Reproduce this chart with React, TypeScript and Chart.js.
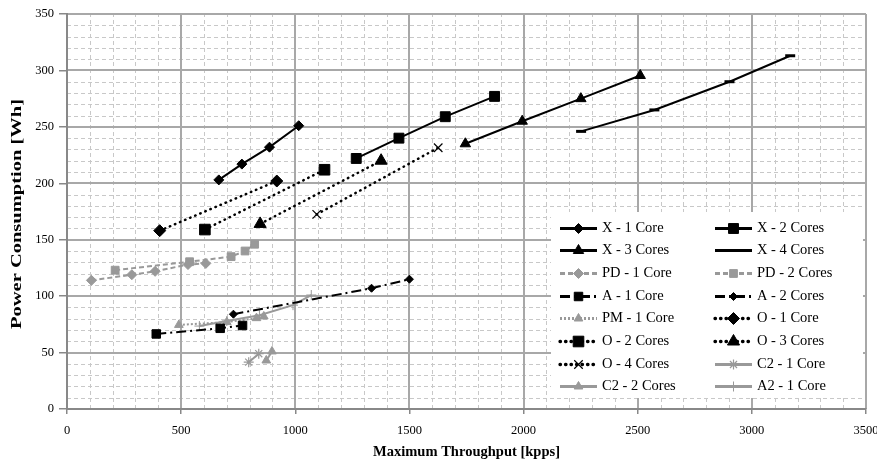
import React, { useEffect, useRef } from "react";
import { Chart, registerables } from "chart.js";
import { drawPoint } from "chart.js/helpers";

Chart.register(...registerables);

// ---- axis setup ----
const X_MIN = 0;
const X_MAX = 3500;
const X_MAJOR = 500;
const X_MINOR = 100;
const Y_MIN = 0;
const Y_MAX = 350;
const Y_MAJOR = 50;
const Y_MINOR = 10;
const X_TITLE = "Maximum Throughput [kpps]";
const Y_TITLE = "Power Consumption [Wh]";

// ---- series data (x = kpps, y = Wh) ----
const x1CoreX = [665, 766, 887, 1015];
const x1CoreY = [203, 217, 232, 251];
const x2CoresX = [1267, 1454, 1657, 1873];
const x2CoresY = [222, 240, 259, 277];
const x3CoresX = [1745, 1994, 2251, 2511];
const x3CoresY = [235, 255, 275, 295.5];
const x4CoresX = [2252, 2573, 2902, 3168];
const x4CoresY = [246, 265, 290, 313];
const pd1CoreX = [107, 284, 386, 530, 608];
const pd1CoreY = [114, 119, 122, 128, 129];
const pd2CoresX = [211, 537, 719, 780, 822];
const pd2CoresY = [123, 130.5, 135, 140, 146];
const a1CoreX = [391, 671, 769];
const a1CoreY = [66.5, 71.5, 74];
const a2CoresX = [729, 1334, 1500];
const a2CoresY = [84, 107, 115];
const pm1CoreX = [490, 700, 830, 862];
const pm1CoreY = [74.5, 77, 80.5, 82];
const o1CoreX = [406, 919];
const o1CoreY = [158, 202];
const o2CoresX = [604, 1128];
const o2CoresY = [159, 212];
const o3CoresX = [846, 1376];
const o3CoresY = [164, 220];
const o4CoresX = [1094, 1626];
const o4CoresY = [172.5, 231.5];
const c21CoreX = [796, 840];
const c21CoreY = [41.5, 49];
const c22CoresX = [873, 898];
const c22CoresY = [43, 51];
const a21CoreX = [580, 700, 843, 990, 1070];
const a21CoreY = [73.5, 78, 83, 92, 101];

const FONT = "'Liberation Serif', 'Times New Roman', serif";
const BLACK = "#000000";
const GRAY = "#999999";

const pts = (xs: number[], ys: number[]) => xs.map((x, i) => ({ x, y: ys[i] }));

type Style = {
  color: string;
  dash: number[];
  width: number;
  cap?: string;
  point: string;
  r: number;
  pbw?: number;
};

const SOLID: number[] = [];
const DASHED = [5, 3];
const DASHDOT = [10, 4, 2, 4];
const DOTTED = [0.5, 5];
const GDOT = [2, 2];

function ds(label: string, xs: number[], ys: number[], s: Style) {
  return {
    label,
    data: pts(xs, ys),
    showLine: true,
    borderColor: s.color,
    backgroundColor: s.color,
    borderWidth: s.width,
    borderDash: s.dash,
    borderCapStyle: s.cap || "butt",
    pointStyle: s.point,
    pointRadius: s.r,
    pointHoverRadius: s.r,
    pointBackgroundColor: s.color,
    pointBorderColor: s.color,
    pointBorderWidth: s.pbw ?? 1,
    tension: 0,
  };
}

const gridPlugin = {
  id: "customGrid",
  beforeDraw(chart: any) {
    const { ctx, chartArea: a, scales } = chart;
    const xs = scales.x;
    const ys = scales.y;
    ctx.save();
    ctx.fillStyle = "#ffffff";
    ctx.fillRect(0, 0, chart.width, chart.height);
    // minor dashed
    ctx.strokeStyle = "#c8c8c8";
    ctx.lineWidth = 1;
    ctx.setLineDash([4, 3]);
    for (let v = X_MIN + X_MINOR; v < X_MAX; v += X_MINOR) {
      if (v % X_MAJOR === 0) continue;
      const px = Math.round(xs.getPixelForValue(v)) + 0.5;
      ctx.beginPath();
      ctx.moveTo(px, a.bottom);
      ctx.lineTo(px, a.top);
      ctx.stroke();
    }
    for (let v = Y_MIN + Y_MINOR; v < Y_MAX; v += Y_MINOR) {
      if (v % Y_MAJOR === 0) continue;
      const py = Math.round(ys.getPixelForValue(v)) + 0.5;
      ctx.beginPath();
      ctx.moveTo(a.left, py);
      ctx.lineTo(a.right, py);
      ctx.stroke();
    }
    // major solid
    ctx.setLineDash([]);
    ctx.strokeStyle = "#a8a8a8";
    ctx.lineWidth = 2;
    for (let v = X_MIN + X_MAJOR; v <= X_MAX; v += X_MAJOR) {
      const px = Math.round(xs.getPixelForValue(v));
      ctx.beginPath();
      ctx.moveTo(px, a.bottom);
      ctx.lineTo(px, a.top);
      ctx.stroke();
    }
    for (let v = Y_MIN + Y_MAJOR; v <= Y_MAX; v += Y_MAJOR) {
      const py = Math.round(ys.getPixelForValue(v));
      ctx.beginPath();
      ctx.moveTo(a.left, py);
      ctx.lineTo(a.right, py);
      ctx.stroke();
    }
    ctx.restore();
  },
};

// axis titles, stretched to the reference's text extents
const titlePlugin = {
  id: "axisTitles",
  afterDraw(chart: any) {
    const { ctx, chartArea: a } = chart;
    ctx.save();
    ctx.fillStyle = "#000000";
    ctx.textAlign = "center";
    ctx.textBaseline = "middle";
    ctx.font = `bold 14px ${FONT}`;
    const wx = ctx.measureText(X_TITLE).width;
    ctx.save();
    ctx.translate((a.left + a.right) / 2, chart.height - 15);
    ctx.scale(187 / wx, 1);
    ctx.fillText(X_TITLE, 0, 0);
    ctx.restore();
    const wy = ctx.measureText(Y_TITLE).width;
    ctx.save();
    ctx.translate(17.5, (a.top + a.bottom) / 2 + 2.5);
    ctx.rotate(-Math.PI / 2);
    ctx.scale(230 / wy, 1);
    ctx.fillText(Y_TITLE, 0, 0);
    ctx.restore();
    ctx.restore();
  },
};

const legendPlugin = {
  id: "boxLegend",
  afterDatasetsDraw(chart: any) {
    const { ctx, chartArea: a } = chart;
    const w = 312;
    const h = 186;
    const bx = a.right - 3 - w;
    const by = a.bottom - 11 - h;
    ctx.save();
    ctx.fillStyle = "#ffffff";
    ctx.fillRect(bx, by, w, h);
    const colX = [bx + 9, bx + 164];
    const rowH = 22.7;
    const sampleW = 37;
    chart.data.datasets.forEach((d: any, i: number) => {
      const col = i % 2;
      const row = Math.floor(i / 2);
      const x0 = colX[col];
      const cy = Math.round(by + 15.5 + row * rowH) + 0.5;
      ctx.save();
      ctx.strokeStyle = d.borderColor;
      ctx.lineWidth = d.borderWidth + 0.8;
      ctx.setLineDash(d.borderDash || []);
      ctx.lineCap = d.borderCapStyle || "butt";
      ctx.beginPath();
      ctx.moveTo(x0, cy);
      ctx.lineTo(x0 + sampleW, cy);
      ctx.stroke();
      ctx.restore();
      ctx.save();
      ctx.setLineDash([]);
      ctx.fillStyle = d.pointBackgroundColor;
      ctx.strokeStyle = d.pointBorderColor;
      ctx.lineWidth = d.pointBorderWidth;
      drawPoint(
        ctx,
        {
          pointStyle: d.pointStyle,
          rotation: 0,
          radius: d.pointRadius,
          borderWidth: d.pointBorderWidth,
        },
        x0 + sampleW / 2,
        cy
      );
      ctx.restore();
      ctx.fillStyle = "#000000";
      ctx.font = `14.5px ${FONT}`;
      ctx.textBaseline = "middle";
      ctx.textAlign = "left";
      ctx.fillText(d.label, x0 + sampleW + 5, cy);
    });
    ctx.restore();
  },
};

export default function App() {
  const ref = useRef<HTMLCanvasElement | null>(null);

  useEffect(() => {
    document.body.style.margin = "0";
    const canvas = ref.current;
    if (!canvas) return;
    const datasets = [
      ds("X - 1 Core", x1CoreX, x1CoreY, { color: BLACK, dash: SOLID, width: 2, point: "rectRot", r: 5 }),
      ds("X - 2 Cores", x2CoresX, x2CoresY, { color: BLACK, dash: SOLID, width: 2, point: "rect", r: 7 }),
      ds("X - 3 Cores", x3CoresX, x3CoresY, { color: BLACK, dash: SOLID, width: 2, point: "triangle", r: 6 }),
      ds("X - 4 Cores", x4CoresX, x4CoresY, { color: BLACK, dash: SOLID, width: 2, point: "line", r: 5, pbw: 3 }),
      ds("PD - 1 Core", pd1CoreX, pd1CoreY, { color: GRAY, dash: DASHED, width: 2, point: "rectRot", r: 5 }),
      ds("PD - 2 Cores", pd2CoresX, pd2CoresY, { color: GRAY, dash: DASHED, width: 2, point: "rect", r: 5.5 }),
      ds("A - 1 Core", a1CoreX, a1CoreY, { color: BLACK, dash: DASHDOT, width: 2, point: "rect", r: 6 }),
      ds("A - 2 Cores", a2CoresX, a2CoresY, { color: BLACK, dash: DASHDOT, width: 2, point: "rectRot", r: 4 }),
      ds("PM - 1 Core", pm1CoreX, pm1CoreY, { color: GRAY, dash: GDOT, width: 2, point: "triangle", r: 5 }),
      ds("O - 1 Core", o1CoreX, o1CoreY, { color: BLACK, dash: DOTTED, width: 2.5, cap: "round", point: "rectRot", r: 6 }),
      ds("O - 2 Cores", o2CoresX, o2CoresY, { color: BLACK, dash: DOTTED, width: 2.5, cap: "round", point: "rect", r: 7.5 }),
      ds("O - 3 Cores", o3CoresX, o3CoresY, { color: BLACK, dash: DOTTED, width: 2.5, cap: "round", point: "triangle", r: 7 }),
      ds("O - 4 Cores", o4CoresX, o4CoresY, { color: BLACK, dash: DOTTED, width: 2.5, cap: "round", point: "crossRot", r: 6, pbw: 1.2 }),
      ds("C2 - 1 Core", c21CoreX, c21CoreY, { color: GRAY, dash: SOLID, width: 2, point: "star", r: 5, pbw: 1.2 }),
      ds("C2 - 2 Cores", c22CoresX, c22CoresY, { color: GRAY, dash: SOLID, width: 2, point: "triangle", r: 5 }),
      ds("A2 - 1 Core", a21CoreX, a21CoreY, { color: GRAY, dash: SOLID, width: 2, point: "cross", r: 5, pbw: 1 }),
    ];

    const axisCommon = {
      type: "linear" as const,
      grid: {
        display: true,
        drawOnChartArea: false,
        drawTicks: true,
        color: "#888888",
        tickColor: "#888888",
        lineWidth: 1.5,
      },
      border: { display: true, color: "#888888", width: 2 },
    };

    const chart = new Chart(canvas, {
      type: "scatter",
      data: { datasets: datasets as any },
      plugins: [gridPlugin, legendPlugin, titlePlugin],
      options: {
        animation: false,
        responsive: false,
        maintainAspectRatio: false,
        devicePixelRatio: 1,
        layout: { padding: { left: 0, right: 11, top: 14, bottom: 0 } },
        plugins: {
          legend: { display: false },
          tooltip: { enabled: false },
        },
        scales: {
          x: {
            ...axisCommon,
            min: X_MIN,
            max: X_MAX,
            grid: { ...axisCommon.grid, tickLength: 5 },
            ticks: {
              stepSize: X_MAJOR,
              color: "#000000",
              font: { family: FONT, size: 12.5 },
              padding: 9,
              maxRotation: 0,
              autoSkip: false,
              callback: (v: any) => String(v),
            },
            title: { display: false },
            afterFit: (s: any) => {
              s.height = 58;
              s.paddingLeft = 0;
              s.paddingRight = 0;
            },
          } as any,
          y: {
            ...axisCommon,
            min: Y_MIN,
            max: Y_MAX,
            grid: { ...axisCommon.grid, tickLength: 8 },
            ticks: {
              stepSize: Y_MAJOR,
              color: "#000000",
              font: { family: FONT, size: 12.5 },
              padding: 5,
              autoSkip: false,
              callback: (v: any) => String(v),
            },
            title: { display: false },
            afterFit: (s: any) => {
              s.width = 67;
              s.paddingTop = 0;
              s.paddingBottom = 0;
            },
          } as any,
        },
      },
    });
    return () => chart.destroy();
  }, []);

  return (
    <div style={{ width: 877, height: 467 }}>
      <canvas ref={ref} width={877} height={467} style={{ display: "block", width: 877, height: 467 }} />
    </div>
  );
}
